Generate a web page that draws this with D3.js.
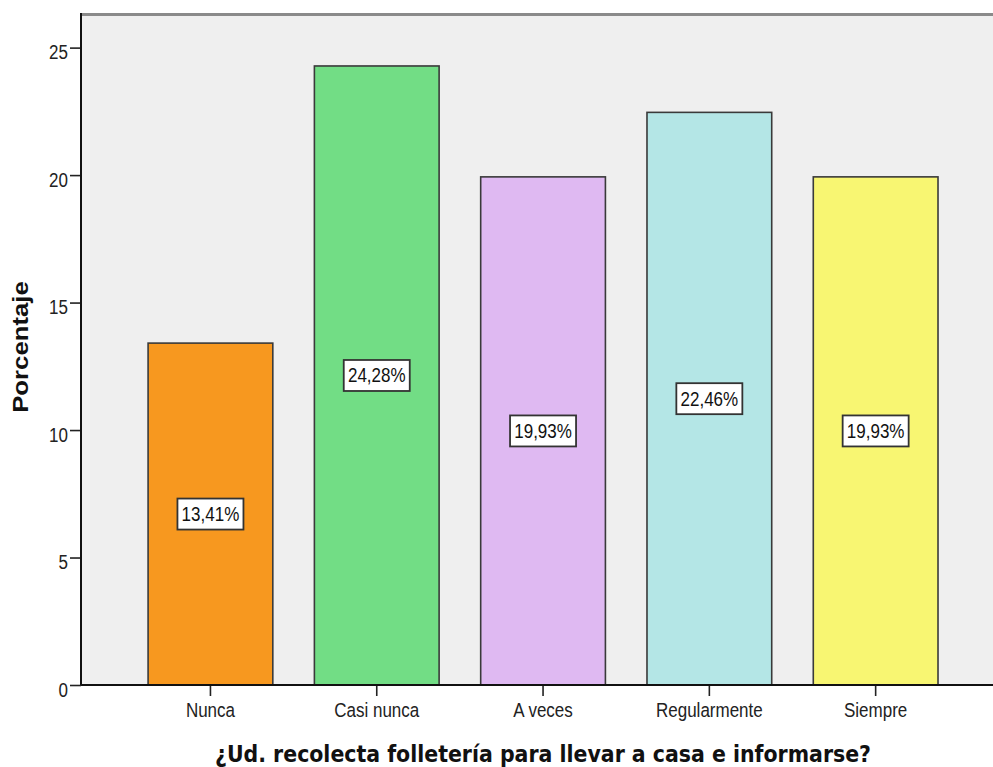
<!DOCTYPE html>
<html>
<head>
<meta charset="utf-8">
<script src="https://cdn.jsdelivr.net/npm/d3@7"></script>
<style>
  html, body { margin: 0; padding: 0; background: #fff; }
  svg { display: block; }
</style>
</head>
<body>
<svg id="chart" width="993" height="767"></svg>
<script>
// Survey answers and their percentages
const categories = ["Nunca", "Casi nunca", "A veces", "Regularmente", "Siempre"];
const percentages = [13.41, 24.28, 19.93, 22.46, 19.93];
const barColors = ["#f7981f", "#72dd85", "#dfb9f2", "#b4e6e6", "#f8f672"];
const yTicks = [0, 5, 10, 15, 20, 25];
const xTitle = "¿Ud. recolecta folletería para llevar a casa e informarse?";
const yTitle = "Porcentaje";

const W = 993, H = 767;
const plot = { left: 81, right: 993, top: 16, bottom: 685 };
const stretch = 1.17; // vertical text stretch

const svg = d3.select("#chart");

const x = d3.scaleBand()
  .domain(categories)
  .range([127.3, 127.3 + 5 * 166.3])
  .paddingInner(0.25)
  .paddingOuter(0.125);

const y = d3.scaleLinear()
  .domain([0, 26.24])
  .range([plot.bottom, plot.top]);

const fmt = v => v.toFixed(2).replace(".", ",") + "%";

// plot background
svg.append("rect")
  .attr("x", plot.left).attr("y", plot.top)
  .attr("width", plot.right - plot.left).attr("height", plot.bottom - plot.top)
  .attr("fill", "#efefef");

// top frame line
svg.append("rect")
  .attr("x", plot.left - 1).attr("y", plot.top - 3)
  .attr("width", plot.right - plot.left + 1).attr("height", 3)
  .attr("fill", "#8a8a8a");

// bars
const bars = svg.append("g");
bars.selectAll("rect")
  .data(categories)
  .join("rect")
  .attr("x", d => x(d))
  .attr("y", (d, i) => y(percentages[i]))
  .attr("width", x.bandwidth())
  .attr("height", (d, i) => y(0) - y(percentages[i]))
  .attr("fill", (d, i) => barColors[i])
  .attr("stroke", "#3a3a3a")
  .attr("stroke-width", 1.6);

// value labels
const labels = svg.append("g");
categories.forEach((c, i) => {
  const cx = x(c) + x.bandwidth() / 2;
  const cy = y(percentages[i] / 2);
  labels.append("rect")
    .attr("x", cx - 33).attr("y", cy - 15.5)
    .attr("width", 66).attr("height", 31)
    .attr("fill", "#fff")
    .attr("stroke", "#333").attr("stroke-width", 1.8);
  labels.append("g")
    .attr("transform", `translate(${cx},${cy + 7}) scale(1,${stretch})`)
    .append("text")
    .attr("text-anchor", "middle")
    .attr("font-family", "Liberation Sans, Arial, sans-serif")
    .attr("font-size", 17)
    .attr("fill", "#111")
    .text(fmt(percentages[i]));
});

// x axis
const xAxis = d3.axisBottom(x).tickSize(11).tickSizeOuter(0);
const gx = svg.append("g")
  .attr("transform", `translate(0,${plot.bottom})`)
  .call(xAxis);
gx.select(".domain").remove();
gx.selectAll(".tick line").attr("stroke", "#222").attr("stroke-width", 1.6);
gx.selectAll(".tick text").remove();
gx.selectAll(".tick").append("g")
  .attr("transform", `translate(0,32) scale(1,${stretch})`)
  .append("text")
  .attr("text-anchor", "middle")
  .attr("font-family", "Liberation Sans, Arial, sans-serif")
  .attr("font-size", 17)
  .attr("fill", "#222")
  .text(d => d);
svg.append("line")
  .attr("x1", plot.left).attr("x2", plot.right)
  .attr("y1", plot.bottom).attr("y2", plot.bottom)
  .attr("stroke", "#111").attr("stroke-width", 2);

// y axis
const yAxis = d3.axisLeft(y).tickValues(yTicks).tickSize(11).tickSizeOuter(0);
const gy = svg.append("g")
  .attr("transform", `translate(${plot.left},0)`)
  .call(yAxis);
gy.select(".domain").remove();
gy.selectAll(".tick line").attr("stroke", "#222").attr("stroke-width", 1.6);
gy.selectAll(".tick text").remove();
gy.selectAll(".tick").append("g")
  .attr("transform", `translate(-13,11) scale(1,${stretch})`)
  .append("text")
  .attr("text-anchor", "end")
  .attr("font-family", "Liberation Sans, Arial, sans-serif")
  .attr("font-size", 17)
  .attr("fill", "#222")
  .text(d => d);
svg.append("line")
  .attr("x1", plot.left).attr("x2", plot.left)
  .attr("y1", plot.top - 3).attr("y2", plot.bottom)
  .attr("stroke", "#111").attr("stroke-width", 2);

// axis titles
svg.append("g")
  .attr("transform", `translate(543,762) scale(1,${stretch})`)
  .append("text")
  .attr("text-anchor", "middle")
  .attr("font-family", "DejaVu Sans, sans-serif")
  .attr("font-weight", "bold")
  .attr("font-size", 19)
  .attr("textLength", 656)
  .attr("lengthAdjust", "spacingAndGlyphs")
  .attr("fill", "#111")
  .text(xTitle);

svg.append("g")
  .attr("transform", `translate(28,347) scale(1,${stretch}) rotate(-90)`)
  .append("text")
  .attr("text-anchor", "middle")
  .attr("font-family", "Liberation Sans, Arial, sans-serif")
  .attr("font-weight", "bold")
  .attr("font-size", 22)
  .attr("fill", "#111")
  .text(yTitle);
</script>
</body>
</html>
